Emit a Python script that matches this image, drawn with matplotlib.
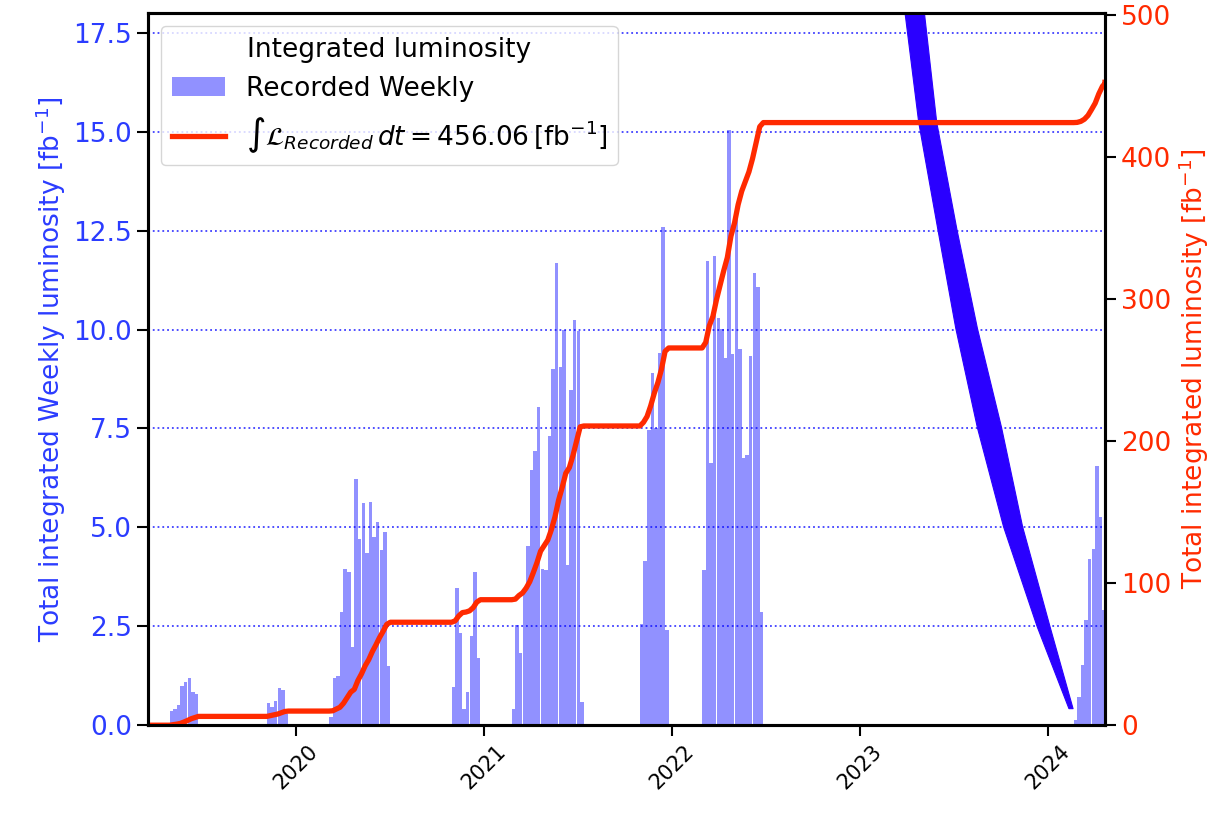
import matplotlib
matplotlib.use("Agg")
import matplotlib.pyplot as plt
import matplotlib.dates as mdates
import numpy as np
import pandas as pd

# weekly recorded luminosity [fb^-1], one list per running period
run_starts = ["2019-04-30", "2019-11-05", "2020-03-05", "2020-10-29",
              "2021-02-23", "2021-10-30", "2022-02-28", "2024-02-20"]
run_values = [
    [0.35, 0.4, 0.5, 1.0, 1.1, 1.2, 0.85, 0.8],
    [0.55, 0.47, 0.62, 0.93, 0.9, 0.28],
    [0.2, 1.2, 1.24, 2.87, 3.94, 3.88, 1.98, 6.21, 4.70, 5.62, 4.36, 5.65,
     4.75, 5.14, 4.44, 4.89, 1.5],
    [0.97, 3.48, 2.34, 0.4, 0.84, 2.25, 3.88, 1.71],
    [0.42, 2.53, 1.83, 3.41, 4.53, 6.45, 6.93, 8.04, 3.96, 3.92, 7.32, 9.0,
     11.68, 9.05, 10.0, 4.05, 8.46, 10.24, 9.97, 0.59],
    [2.55, 4.15, 7.45, 8.9, 7.5, 9.4, 12.6, 2.4],
    [3.91, 11.74, 6.63, 11.86, 10.28, 10.01, 9.27, 15.04, 9.37, 12.86, 9.50,
     6.76, 6.83, 9.32, 11.43, 11.08, 2.87],
    [0.14, 0.71, 1.51, 2.67, 4.21, 4.45, 6.55, 5.26, 2.9],
]
TOTAL = 456.06

# the stray projection band (right axis units)
band_y = [512, 425, 350, 280, 210, 140, 70, 12]
band_left = ["2023-03-25", "2023-04-24", "2023-05-31", "2023-07-05",
             "2023-08-16", "2023-10-06", "2023-12-10", "2024-02-10"]
band_right = ["2023-05-02", "2023-05-29", "2023-07-07", "2023-08-16",
              "2023-10-02", "2023-11-12", "2024-01-04", "2024-02-18"]

x_min = pd.Timestamp("2019-03-19")
x_max = pd.Timestamp("2024-04-21")

week = pd.Timedelta(days=7)
dates = []
values = []
for start, vals in zip(run_starts, run_values):
    for i, v in enumerate(vals):
        dates.append(pd.Timestamp(start) + i * week)
        values.append(v)

# cumulative curve built from the weekly bars
cum_t = [x_min]
cum_v = [0.0]
total = 0.0
for d, v in zip(dates, values):
    cum_t.append(d)
    cum_v.append(total)
    total += v
    cum_t.append(d + week)
    cum_v.append(total)
cum_t.append(x_max)
cum_v.append(total)

blue_txt = "#2b3cff"
red = "#ff2a00"
fs = 19

fig, ax1 = plt.subplots(figsize=(12.23, 8.13), dpi=100)
fig.subplots_adjust(left=0.121, right=0.9035, bottom=0.108, top=0.984)

bars = ax1.bar(dates, values, width=6.7, align="edge", color="blue",
               alpha=0.43, linewidth=0, label="Recorded Weekly")
ax1.set_ylim(0, 18)
ax1.set_yticks(np.arange(0, 17.6, 2.5))
ax1.set_axisbelow(False)
ax1.yaxis.grid(True, color="blue", linestyle=":", linewidth=1.3, alpha=0.75)
ax1.set_ylabel("Total integrated Weekly luminosity [fb$^{-1}$]",
               color=blue_txt, fontsize=fs)
ax1.tick_params(axis="y", labelcolor=blue_txt, labelsize=fs, length=8, width=1.5)
ax1.tick_params(axis="x", labelsize=15, length=8, width=1.5)

ax2 = ax1.twinx()
line, = ax2.plot(cum_t, cum_v, color=red, lw=3.8, solid_joinstyle="round",
                 label=r"$\int\mathcal{L}_{Recorded}\,dt = %.2f\,[\mathrm{fb}^{-1}]$" % TOTAL)
ax2.fill_betweenx(band_y, pd.to_datetime(band_left), pd.to_datetime(band_right),
                  color="#2a00ff", linewidth=0.8, edgecolor="#2a00ff")
ax2.set_ylim(0, TOTAL * 1.1)
ax2.set_yticks(np.arange(0, 501, 100))
ax2.set_ylabel("Total integrated luminosity [fb$^{-1}$]", color=red, fontsize=fs)
ax2.tick_params(axis="y", labelcolor=red, labelsize=fs, length=8, width=1.5)

ax1.set_xlim(x_min, x_max)
ax1.xaxis.set_major_locator(mdates.YearLocator())
ax1.xaxis.set_major_formatter(mdates.DateFormatter("%Y"))
for lab in ax1.get_xticklabels():
    lab.set_rotation(45)

for ax in (ax1, ax2):
    for sp in ax.spines.values():
        sp.set_linewidth(2.2)

ax2.legend([bars, line], [bars.get_label(), line.get_label()], loc="upper left",
           title="Integrated luminosity", fontsize=fs, title_fontsize=fs)

fig.savefig("out.png", dpi=100)
